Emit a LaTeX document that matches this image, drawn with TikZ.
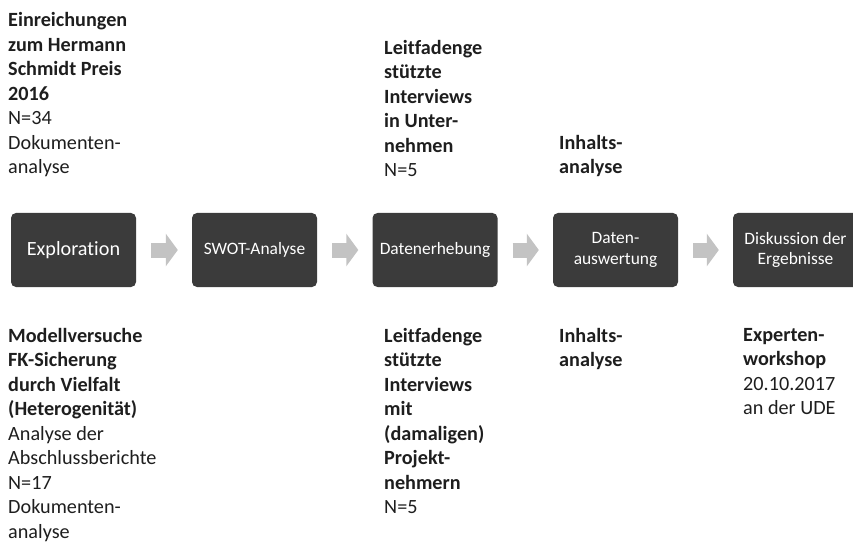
\documentclass[tikz,border=0pt]{standalone}
\usepackage{fontspec}
\setmainfont{Carlito}[Ligatures=NoCommon]
\usetikzlibrary{arrows.meta}
\definecolor{boxgray}{HTML}{3B3B3B}
\definecolor{arrowgray}{HTML}{C3C3C3}
\definecolor{textgray}{HTML}{1E1E1E}

\begin{document}
\begin{tikzpicture}[x=1pt, y=-1pt,
    phase/.style ={rectangle, rounded corners=5pt, fill=boxgray, text=white,
      minimum width=125pt, minimum height=74pt, align=center,
      font=\fontsize{17.4}{20.5}\selectfont},
    flow/.style ={arrowgray, line width=15pt, -{Triangle[length=12pt, width=32pt]}},
    note/.style ={align=left, inner sep=0pt, text=textgray,
      font=\fontsize{20.2}{24.5}\selectfont}]
   \clip (0,0) rectangle (853,545);

   % Phasen
   \node[phase, font=\fontsize{20.2}{20}\selectfont] (expl) at (73.5,250) {Exploration};
   \node[phase] (swot) at (254.5,250) {SWOT-Analyse};
   \node[phase] (erheb) at (435,250) {Datenerhebung};
   \node[phase] (ausw) at (615.5,250) {Daten-\\auswertung};
   \node[phase] (disk) at (795.5,250) {Diskussion der\\Ergebnisse};

   \draw[flow] ([xshift=15pt]expl.east) -- ([xshift=-14pt]swot.west);
   \draw[flow] ([xshift=15pt]swot.east) -- ([xshift=-14pt]erheb.west);
   \draw[flow] ([xshift=15pt]erheb.east) -- ([xshift=-14pt]ausw.west);
   \draw[flow] ([xshift=15pt]ausw.east) -- ([xshift=-14pt]disk.west);

   % oben
   \node[note, anchor=south west] (top1) at (8,177) {\textbf{Einreichungen}\\\textbf{zum Hermann}\\\textbf{Schmidt Preis}\\\textbf{2016}\\N=34\\Dokumenten-\\analyse};
   \node[note, anchor=south west] (top3) at (384,177) {\textbf{Leitfadenge}\\\textbf{stützte}\\\textbf{Interviews}\\\textbf{in Unter-}\\\textbf{nehmen}\\N=5};
   \node[note, anchor=south west] (top4) at (559,177) {\textbf{Inhalts-}\\\textbf{analyse}};

   % unten
   \node[note, anchor=north west] (bot1) at (8,328) {\textbf{Modellversuche}\\\textbf{FK-Sicherung}\\\textbf{durch Vielfalt}\\\textbf{(Heterogenität)}\\Analyse der\\Abschlussberichte\\N=17\\Dokumenten-\\analyse};
   \node[note, anchor=north west] (bot3) at (384,328) {\textbf{Leitfadenge}\\\textbf{stützte}\\\textbf{Interviews}\\\textbf{mit}\\\textbf{(damaligen)}\\\textbf{Projekt-}\\\textbf{nehmern}\\N=5};
   \node[note, anchor=north west] (bot4) at (559,328) {\textbf{Inhalts-}\\\textbf{analyse}};
   \node[note, anchor=north west] (bot5) at (743,328) {\textbf{Experten-}\\\textbf{workshop}\\20.10.2017\\an der UDE};
\end{tikzpicture}
\end{document}
